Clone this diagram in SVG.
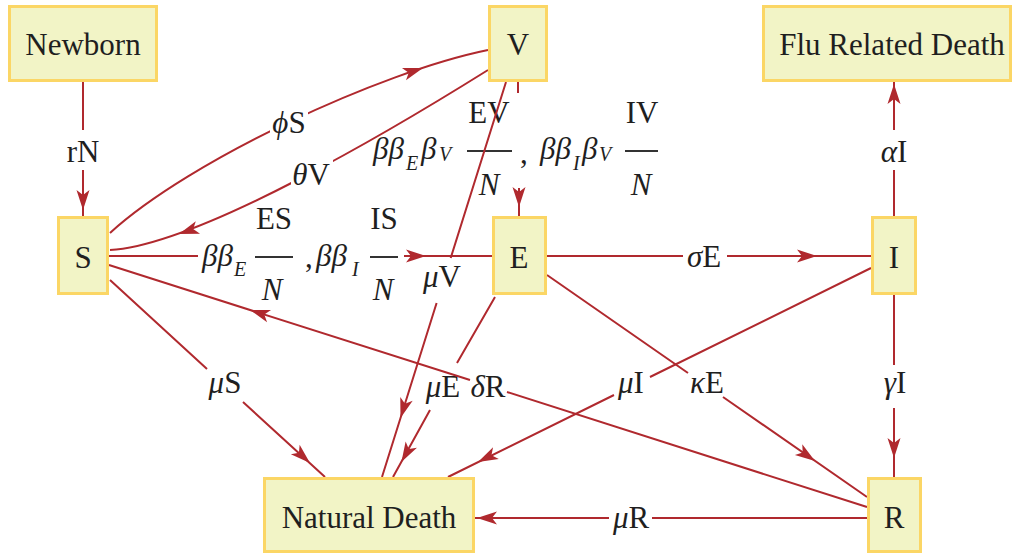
<svg xmlns="http://www.w3.org/2000/svg" width="1014" height="556" viewBox="0 0 1014 556" font-family="'Liberation Serif', 'DejaVu Serif', serif">
<style>
text{font-family:'Liberation Serif','DejaVu Serif',serif}
.box{fill:#f2f4c6;stroke:#fbd665;stroke-width:3}
.nt{font-size:31px;fill:#1f1f1f;text-anchor:middle}
.lb{font-size:31px;fill:#1f1f1f}
.mid{text-anchor:middle}
.it{font-style:italic}
.sub{font-size:20px;font-style:italic;fill:#1f1f1f}
.ln{fill:none;stroke:#b0292e;stroke-width:2}
.bar{stroke:#333;stroke-width:2}
.ah{fill:#b0292e}
.halo{fill:#fff}
</style>
<defs>
<path id="ah" d="M0,0 L-20,-6.5 L-15,0 L-20,6.5 Z"/>
</defs>
<rect width="1014" height="556" fill="#fff"/>
<g id="connectors">
<!-- Newborn -> S -->
<path class="ln" d="M83,82 V130 M83,170 V216"/>
<use href="#ah" class="ah" transform="translate(83,210) rotate(90)"/>
<text class="lb mid" x="83" y="162">rN</text>
<!-- S -> V (phi S) -->
<path class="ln" d="M110,233 C190,160 380,72 488,50"/>
<rect class="halo" x="270" y="110" width="38" height="30"/>
<use href="#ah" class="ah" transform="translate(423,68) rotate(-18)"/>
<text class="lb mid" x="289" y="133"><tspan class="it">ϕ</tspan>S</text>
<!-- V -> S (theta V) -->
<path class="ln" d="M488,70 C400,125 200,245 110,250"/>
<rect class="halo" x="291" y="160" width="42" height="30"/>
<use href="#ah" class="ah" transform="translate(179,234) rotate(161)"/>
<text class="lb mid" x="311" y="185"><tspan class="it">θ</tspan>V</text>
<!-- S -> E -->
<path class="ln" d="M109,256 H198 M404,256 H492"/>
<use href="#ah" class="ah" transform="translate(426,256)"/>
<text class="lb it" x="202" y="266">ββ</text>
<text class="sub" x="234" y="276">E</text>
<line class="bar" x1="255" y1="257" x2="293" y2="257"/>
<text class="lb mid" x="274" y="229">ES</text>
<text class="lb mid it" x="272" y="300">N</text>
<text class="lb" x="305" y="267">,</text>
<text class="lb it" x="316" y="266">ββ</text>
<text class="sub" x="352" y="276">I</text>
<line class="bar" x1="370" y1="257" x2="398" y2="257"/>
<text class="lb mid" x="384" y="229">IS</text>
<text class="lb mid it" x="383" y="300">N</text>
<!-- V -> E -->
<path class="ln" d="M518,82 V93 M519,188 V216"/>
<use href="#ah" class="ah" transform="translate(519,207) rotate(90)"/>
<text class="lb it" x="373" y="159">ββ</text>
<text class="sub" x="406" y="170">E</text>
<text class="lb it" x="421" y="159">β</text>
<text class="sub" x="439" y="161">V</text>
<line class="bar" x1="467" y1="151" x2="512" y2="151"/>
<text class="lb mid" x="489" y="123">EV</text>
<text class="lb mid it" x="489" y="195">N</text>
<text class="lb" x="520" y="163">,</text>
<text class="lb it" x="540" y="159">ββ</text>
<text class="sub" x="573" y="170">I</text>
<text class="lb it" x="582" y="159">β</text>
<text class="sub" x="599" y="161">V</text>
<line class="bar" x1="625" y1="151" x2="658" y2="151"/>
<text class="lb mid" x="642" y="123">IV</text>
<text class="lb mid it" x="641" y="195">N</text>
<!-- V -> Natural Death (mu V) -->
<path class="ln" d="M506,82 L450.7,258 M436.6,303 L382,477"/>
<use href="#ah" class="ah" transform="translate(400.5,418) rotate(107.4)"/>
<text class="lb mid" x="442" y="287"><tspan class="it">μ</tspan>V</text>
<!-- E -> Natural Death (mu E) -->
<path class="ln" d="M495,297 L457,363 M430,410 L393,477"/>
<use href="#ah" class="ah" transform="translate(401.4,462) rotate(119.6)"/>
<text class="lb mid" x="443" y="397"><tspan class="it">μ</tspan>E</text>
<!-- S -> Natural Death (mu S) -->
<path class="ln" d="M110,280 L207,369 M243,402 L325,477"/>
<use href="#ah" class="ah" transform="translate(310,463) rotate(42.5)"/>
<text class="lb mid" x="225" y="393"><tspan class="it">μ</tspan>S</text>
<!-- R -> S (delta R) -->
<path class="ln" d="M867,507 L507,392 M470,380 L109,265"/>
<use href="#ah" class="ah" transform="translate(250,310) rotate(197.7)"/>
<text class="lb mid" x="488" y="397"><tspan class="it">δ</tspan>R</text>
<!-- I -> Natural Death (mu I) -->
<path class="ln" d="M871,268 L650,377 M614,395 L448,477"/>
<use href="#ah" class="ah" transform="translate(478,462) rotate(153.7)"/>
<text class="lb mid" x="631" y="393"><tspan class="it">μ</tspan>I</text>
<!-- E -> R (kappa E) -->
<path class="ln" d="M547,275 L688,373 M723,397 L867,497"/>
<use href="#ah" class="ah" transform="translate(815,461) rotate(34.8)"/>
<text class="lb mid" x="707" y="393"><tspan class="it">κ</tspan>E</text>
<!-- E -> I (sigma E) -->
<path class="ln" d="M547,256 H683 M727,256 H871"/>
<use href="#ah" class="ah" transform="translate(817,256)"/>
<text class="lb mid" x="704" y="267"><tspan class="it">σ</tspan>E</text>
<!-- I -> Flu Related Death (alpha I) -->
<path class="ln" d="M894,216 V170 M894,130 V82"/>
<use href="#ah" class="ah" transform="translate(894,84) rotate(-90)"/>
<text class="lb mid" x="894" y="162"><tspan class="it">α</tspan>I</text>
<!-- I -> R (gamma I) -->
<path class="ln" d="M894,295 V365 M894,408 V477"/>
<use href="#ah" class="ah" transform="translate(894,458) rotate(90)"/>
<text class="lb mid" x="895" y="393"><tspan class="it">γ</tspan>I</text>
<!-- R -> Natural Death (mu R) -->
<path class="ln" d="M867,518 H652 M609,518 H475"/>
<use href="#ah" class="ah" transform="translate(477,518) rotate(180)"/>
<text class="lb mid" x="631" y="528"><tspan class="it">μ</tspan>R</text>
</g>
<g id="node-newborn"><rect class="box" x="9.5" y="6.5" width="147" height="74"/><text class="nt" x="83" y="55">Newborn</text></g>
<g id="node-v"><rect class="box" x="489.5" y="6.5" width="57" height="74"/><text class="nt" x="518" y="55">V</text></g>
<g id="node-flu"><rect class="box" x="763.5" y="6.5" width="247" height="74"/><text class="nt" x="892" y="55">Flu Related Death</text></g>
<g id="node-s"><rect class="box" x="58.5" y="217.5" width="49" height="76"/><text class="nt" x="83" y="268">S</text></g>
<g id="node-e"><rect class="box" x="493.5" y="217.5" width="52" height="76"/><text class="nt" x="519" y="268">E</text></g>
<g id="node-i"><rect class="box" x="872.5" y="217.5" width="43" height="76"/><text class="nt" x="894" y="268">I</text></g>
<g id="node-r"><rect class="box" x="868.5" y="478.5" width="52" height="73"/><text class="nt" x="894" y="528">R</text></g>
<g id="node-natural-death"><rect class="box" x="264.5" y="478.5" width="209" height="73"/><text class="nt" x="369" y="528">Natural Death</text></g>
</svg>
